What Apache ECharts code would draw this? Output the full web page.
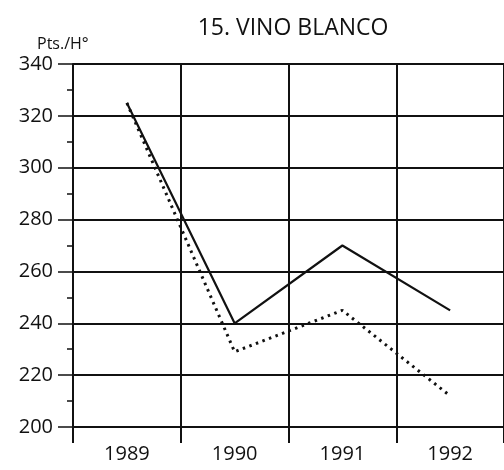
<!DOCTYPE html>
<html><head><meta charset="utf-8">
<script src="https://cdn.jsdelivr.net/npm/echarts@6/dist/echarts.min.js"></script>
<style>html,body{margin:0;padding:0;background:#fff}#c{width:504px;height:470px}</style>
</head><body><div id="c"></div>
<script>
const categories = ['1989', '1990', '1991', '1992'];
const solidSeries = [325, 240, 270, 245];
const dottedSeries = [325, 229, 245, 212];
const titleText = '15. VINO BLANCO';
const unitText = 'Pts./H°';
const FONT = '"Open Sans", sans-serif';

const chart = echarts.init(document.getElementById('c'), null, {renderer: 'canvas'});
chart.setOption({
  animation: false,
  backgroundColor: '#fff',
  title: [
    {text: titleText, left: 288, top: 12, textAlign: 'center',
     textStyle: {fontFamily: FONT, fontSize: 23, fontWeight: 'normal', color: '#111'}},
    {text: unitText, left: 32, top: 31,
     textStyle: {fontFamily: FONT, fontSize: 16, fontWeight: 'normal', color: '#111'}}
  ],
  grid: {left: 73, top: 64, width: 432, bottom: 43, containLabel: false},
  xAxis: {
    type: 'category', data: categories, boundaryGap: true,
    axisLine: {show: true, lineStyle: {color: '#111', width: 2}},
    axisTick: {show: true, length: 16, lineStyle: {color: '#111', width: 2}},
    axisLabel: {margin: 17, fontFamily: FONT, fontSize: 20, color: '#111'},
    splitLine: {show: true, lineStyle: {color: '#111', width: 2}}
  },
  yAxis: {
    type: 'value', min: 200, max: 340, interval: 20,
    axisLine: {show: true, lineStyle: {color: '#111', width: 2}},
    axisTick: {show: true, length: 15, lineStyle: {color: '#111', width: 1.5}},
    minorTick: {show: true, splitNumber: 2, length: 6, lineStyle: {color: '#111', width: 1.5}},
    axisLabel: {margin: 20, fontFamily: FONT, fontSize: 20, color: '#111'},
    splitLine: {show: true, lineStyle: {color: '#111', width: 2}}
  },
  series: [
    {type: 'line', data: solidSeries, symbol: 'none',
     lineStyle: {color: '#111', width: 2.2, type: 'solid'}, z: 3},
    {type: 'line', data: dottedSeries, symbol: 'none',
     lineStyle: {color: '#111', width: 3, type: [2.5, 4.5], cap: 'butt'}, z: 3}
  ]
});
</script></body></html>
